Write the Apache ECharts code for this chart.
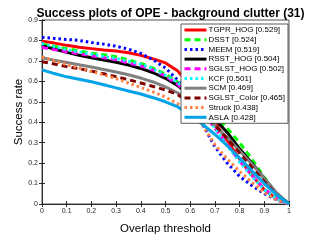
<!DOCTYPE html>
<html><head><meta charset="utf-8">
<script src="https://cdn.jsdelivr.net/npm/echarts@6/dist/echarts.min.js"></script>
<style>html,body{margin:0;padding:0;background:#fff}#c{width:320px;height:240px}</style>
</head><body><div id="c"></div>
<script>
var thresholds = [0,0.05,0.1,0.15,0.2,0.25,0.3,0.35,0.4,0.45,0.5,0.55,0.6,0.65,0.7,0.75,0.8,0.85,0.9,0.95,1];
var names = ['TGPR_HOG [0.529]','DSST [0.524]','MEEM [0.519]','RSST_HOG [0.504]','SGLST_HOG [0.502]','KCF [0.501]','SCM [0.469]','SGLST_Color [0.465]','Struck [0.438]','ASLA [0.428]'];
var tgpr = [.796,.787,.776,.767,.76,.753,.748,.74,.727,.71,.69,.65,.58,.49,.4,.31,.22,.14,.07,.025,0];
var dsst = [.78,.772,.76,.748,.738,.73,.72,.705,.688,.665,.635,.595,.545,.49,.43,.37,.30,.22,.13,.05,0];
var meem = [.815,.81,.805,.80,.79,.782,.772,.757,.737,.705,.665,.605,.51,.39,.28,.2,.135,.09,.05,.02,0];
var rsst = [.774,.758,.742,.728,.715,.704,.693,.68,.663,.642,.615,.578,.53,.475,.415,.35,.27,.2,.125,.05,0];
var sglstHog = [.766,.755,.745,.735,.725,.715,.705,.69,.675,.655,.625,.585,.525,.45,.37,.29,.21,.14,.075,.025,0];
var kcf = [.785,.77,.755,.744,.733,.722,.712,.698,.684,.66,.63,.595,.535,.455,.37,.285,.205,.135,.07,.025,0];
var scm = [.715,.703,.692,.681,.67,.658,.646,.632,.616,.597,.573,.543,.5,.445,.385,.325,.26,.195,.125,.055,0];
var sglstColor = [.696,.685,.672,.662,.65,.637,.623,.608,.592,.575,.558,.535,.495,.445,.385,.32,.25,.18,.11,.045,0];
var struck = [.719,.7,.682,.665,.648,.632,.613,.592,.57,.548,.523,.49,.445,.385,.29,.22,.16,.105,.055,.02,0];
var asla = [.656,.638,.622,.61,.598,.583,.568,.553,.538,.52,.5,.475,.435,.39,.34,.285,.225,.162,.1,.045,0];
var allValues = [tgpr,dsst,meem,rsst,sglstHog,kcf,scm,sglstColor,struck,asla];
var colors = ['#ff0000','#00ff00','#0000ff','#000000','#ff00ff','#00ffff','#808080','#800000','#ff8040','#00a2e8'];
var dashes = ['solid',[6,4],[2.5,3],'solid',[6,4],[2.5,3],'solid',[6,4],[2.5,3],'solid'];

var series = allValues.map(function(vals,i){
  return {name:names[i],type:'line',showSymbol:false,symbol:'none',animation:false,
    data:thresholds.map(function(t,j){return [t,vals[j]];}),
    lineStyle:{color:colors[i],width:3,type:dashes[i]},itemStyle:{color:colors[i]}};
});
var axisCol = '#262626';
function fmt(v){return v===0?'0':(v===1?'1':v.toFixed(1));}
var chart = echarts.init(document.getElementById('c'),null,{renderer:'canvas'});
chart.setOption({
  animation:false,
  title:{text:'Success plots of OPE - background clutter (31)',left:165.5,textAlign:'center',top:3,
    textStyle:{fontSize:12,fontWeight:'bold',color:'#000',fontFamily:'Liberation Sans, Arial'}},
  grid:{left:42,right:31,top:20,bottom:29,show:true,borderColor:axisCol,borderWidth:0.8,backgroundColor:'#fff'},
  legend:{orient:'vertical',left:181,top:24,padding:[2,3,2,2],itemGap:1.7,itemWidth:22,itemHeight:8.3,
    backgroundColor:'#fff',borderColor:'#333',borderWidth:0.8,
    itemStyle:{opacity:0,borderWidth:0},
    lineStyle:{width:3},
    textStyle:{fontSize:8,color:'#000',fontFamily:'Liberation Sans, Arial',padding:[0,0,0,-3]},
    data:names},
  xAxis:[{type:'value',min:0,max:1,interval:0.1,name:'Overlap threshold',nameLocation:'middle',nameGap:19,nameMoveOverlap:false,
    nameTextStyle:{fontSize:11.5,color:'#000',fontFamily:'Liberation Sans, Arial'},
    axisLine:{show:true,lineStyle:{color:axisCol,width:0.8}},axisTick:{show:true,inside:true,length:3,lineStyle:{color:axisCol}},
    axisLabel:{fontSize:7,color:axisCol,margin:4,formatter:fmt,fontFamily:'Liberation Sans, Arial'},splitLine:{show:false}},
    {type:'value',position:'top',min:0,max:1,interval:0.1,axisLine:{show:true,lineStyle:{color:axisCol,width:0.8}},
    axisTick:{show:true,inside:true,length:3,lineStyle:{color:axisCol}},axisLabel:{show:false},splitLine:{show:false}}],
  yAxis:[{type:'value',min:0,max:0.9,interval:0.1,name:'Success rate',nameLocation:'middle',nameGap:17,nameMoveOverlap:false,
    nameTextStyle:{fontSize:11.5,color:'#000',fontFamily:'Liberation Sans, Arial'},
    axisLine:{show:true,lineStyle:{color:axisCol,width:0.8}},axisTick:{show:true,inside:true,length:3,lineStyle:{color:axisCol}},
    axisLabel:{fontSize:7,color:axisCol,margin:4,formatter:fmt,fontFamily:'Liberation Sans, Arial'},splitLine:{show:false}},
    {type:'value',position:'right',min:0,max:0.9,interval:0.1,axisLine:{show:true,lineStyle:{color:axisCol,width:0.8}},
    axisTick:{show:true,inside:true,length:3,lineStyle:{color:axisCol}},axisLabel:{show:false},splitLine:{show:false}}],
  series:series
});
</script></body></html>
